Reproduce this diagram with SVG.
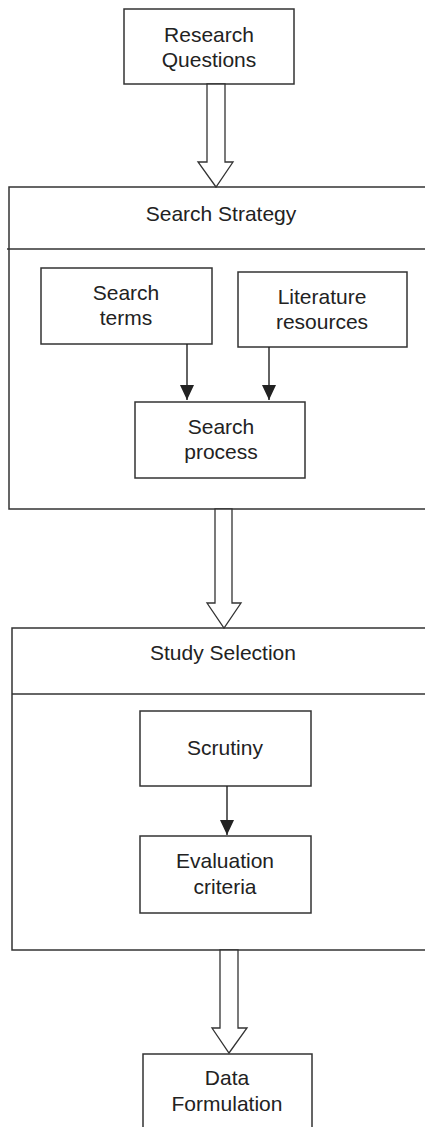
<svg xmlns="http://www.w3.org/2000/svg" width="425" height="1127" viewBox="0 0 425 1127">
<defs>
<style>
.box{fill:#fff;stroke:#333;stroke-width:1.5}
.frame{fill:none;stroke:#333;stroke-width:1.5}
.hollow{fill:#fff;stroke:#333;stroke-width:1.3;stroke-linejoin:miter}
.conn{stroke:#222;stroke-width:1.4;fill:none}
text{font-family:"Liberation Sans",Arial,sans-serif;font-size:21px;fill:#222;text-anchor:middle}
</style>
<marker id="ah" markerUnits="userSpaceOnUse" markerWidth="15" markerHeight="14" refX="15" refY="7" orient="auto" viewBox="0 0 15 14">
<path d="M0,0 L15,7 L0,14 Z" fill="#222"/>
</marker>
</defs>
<rect width="425" height="1127" fill="#fff"/>

<g id="research-questions">
<rect class="box" x="124" y="9" width="170" height="75"/>
<text x="209" y="42">Research</text>
<text x="209" y="67">Questions</text>
</g>

<g id="search-strategy">
<rect class="frame" x="9" y="187" width="430" height="322"/>
<line class="frame" x1="7" y1="249" x2="425" y2="249"/>
<text x="221" y="221">Search Strategy</text>
</g>

<g id="search-terms">
<rect class="box" x="41" y="268" width="171" height="76"/>
<text x="126" y="300">Search</text>
<text x="126" y="325">terms</text>
</g>

<g id="literature-resources">
<rect class="box" x="238" y="272" width="169" height="75"/>
<text x="322" y="304">Literature</text>
<text x="322" y="329">resources</text>
</g>

<g id="search-process">
<rect class="box" x="135" y="402" width="170" height="76"/>
<text x="221" y="434">Search</text>
<text x="221" y="459">process</text>
</g>

<g id="study-selection">
<rect class="frame" x="12" y="628" width="430" height="322"/>
<line class="frame" x1="12" y1="694" x2="425" y2="694"/>
<text x="223" y="660">Study Selection</text>
</g>

<g id="scrutiny">
<rect class="box" x="140" y="711" width="171" height="75"/>
<text x="225" y="755">Scrutiny</text>
</g>

<g id="evaluation-criteria">
<rect class="box" x="140" y="836" width="171" height="77"/>
<text x="225" y="868">Evaluation</text>
<text x="225" y="894">criteria</text>
</g>

<g id="data-formulation">
<rect class="box" x="143" y="1054" width="169" height="90"/>
<text x="227" y="1085">Data</text>
<text x="227" y="1111">Formulation</text>
</g>

<g id="connectors">
<polygon class="hollow" points="207,84 225,84 225,162 233,162 216,187 198,162 207,162"/>
<polygon class="hollow" points="215,509 232,509 232,603 241,603 224,628 207,603 215,603"/>
<polygon class="hollow" points="220,950 238,950 238,1028 247,1028 229,1053 212,1028 220,1028"/>
<line class="conn" x1="187" y1="344" x2="187" y2="400" marker-end="url(#ah)"/>
<line class="conn" x1="269" y1="347" x2="269" y2="400" marker-end="url(#ah)"/>
<line class="conn" x1="227" y1="786" x2="227" y2="835" marker-end="url(#ah)"/>
</g>
</svg>
